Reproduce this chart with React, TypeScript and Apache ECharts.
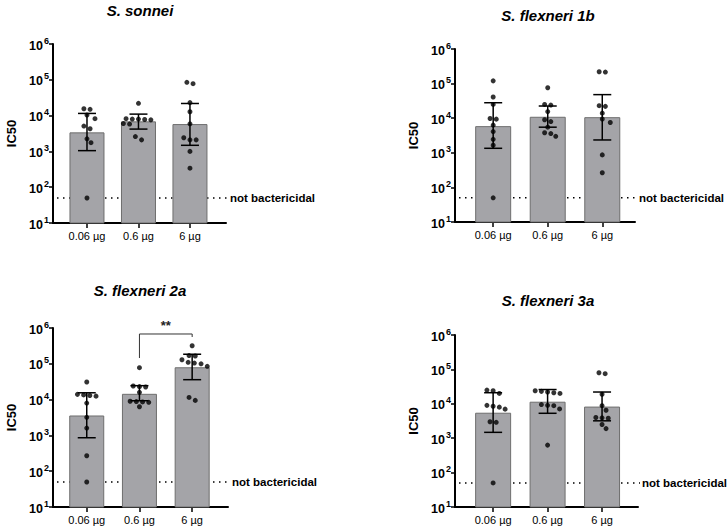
import React, { useEffect, useRef } from 'react';
import * as echarts from 'echarts';

const FONT = '"Liberation Sans", Arial, Helvetica, sans-serif';

// ---------- data ----------
const doses = ['0.06 µg', '0.6 µg', '6 µg'];
const panelTitles = ['S. sonnei', 'S. flexneri 1b', 'S. flexneri 2a', 'S. flexneri 3a'];
const notBactericidalValue = 50;
const notBactericidalLabel = 'not bactericidal';
const yAxisName = 'IC50';

// S. sonnei
const sonneiMean = [3400, 6900, 5800];
const sonneiLow = [1050, 4200, 1480];
const sonneiHigh = [11500, 11000, 21800];
const sonneiDose1 = [15500, 15000, 10400, 8200, 5100, 4300, 2250, 1750, 50];
const sonneiDose2 = [22000, 8200, 8000, 8000, 7800, 7600, 6000, 5800, 2600, 2100];
const sonneiDose3 = [85000, 78000, 23000, 12800, 5900, 2400, 2100, 2100, 1000, 340];

// S. flexneri 1b
const flex1bMean = [5900, 11000, 10700];
const flex1bLow = [1350, 5500, 2350];
const flex1bHigh = [28000, 22500, 48000];
const flex1bDose1 = [120000, 41000, 25000, 9800, 9400, 6300, 4100, 2450, 1650, 50];
const flex1bDose2 = [76000, 25000, 24000, 15500, 9000, 8000, 5500, 3800, 3600, 3000];
const flex1bDose3 = [220000, 215000, 23000, 22000, 14000, 9500, 7500, 870, 265];

// S. flexneri 2a
const flex2aMean = [3600, 14500, 80000];
const flex2aLow = [860, 9300, 36000];
const flex2aHigh = [15500, 24500, 185000];
const flex2aDose1 = [31000, 14000, 13500, 13000, 12500, 8000, 3200, 1600, 270, 50];
const flex2aDose2 = [78000, 24000, 23000, 22500, 16000, 9000, 8800, 8600, 8400, 6300];
const flex2aDose3 = [320000, 170000, 165000, 130000, 110000, 105000, 100000, 85000, 11500, 9500];
// significance bracket between dose 2 and dose 3: [left leg end, top, right leg end]
const flex2aBracket = [145000, 680000, 560000];
const flex2aBracketLabel = '**';

// S. flexneri 3a
const flex3aMean = [5500, 11500, 8300];
const flex3aLow = [1480, 5300, 3200];
const flex3aHigh = [21000, 26000, 22000];
const flex3aDose1 = [25000, 24000, 20000, 9000, 8500, 8000, 7000, 3000, 2900, 50];
const flex3aDose2 = [24000, 23000, 22000, 21000, 20000, 9500, 9000, 8800, 7100, 630];
const flex3aDose3 = [80000, 75000, 19000, 8800, 6500, 4000, 3900, 3800, 2500, 1900];

// ---------- layout ----------
const layouts = [
  { left: 53, top: 44, width: 173, height: 179, xMin: 0.34, xMax: 3.7, barWidth: 35, titleX: 140, titleY: 10 },
  { left: 455, top: 49, width: 180, height: 173, xMin: 0.3, xMax: 3.6, barWidth: 36, titleX: 548, titleY: 15 },
  { left: 53, top: 328, width: 175, height: 179, xMin: 0.36, xMax: 3.68, barWidth: 35, titleX: 140, titleY: 290 },
  { left: 455, top: 335, width: 183, height: 172, xMin: 0.3, xMax: 3.66, barWidth: 36, titleX: 548, titleY: 300 },
];

const panels = [
  { mean: sonneiMean, low: sonneiLow, high: sonneiHigh, points: [sonneiDose1, sonneiDose2, sonneiDose3] },
  { mean: flex1bMean, low: flex1bLow, high: flex1bHigh, points: [flex1bDose1, flex1bDose2, flex1bDose3] },
  { mean: flex2aMean, low: flex2aLow, high: flex2aHigh, points: [flex2aDose1, flex2aDose2, flex2aDose3] },
  { mean: flex3aMean, low: flex3aLow, high: flex3aHigh, points: [flex3aDose1, flex3aDose2, flex3aDose3] },
];

// beeswarm layout: returns horizontal pixel offsets for each value
function beeswarm(values: number[], pxPerDecade: number): number[] {
  const ys = values.map((v) => Math.log10(v) * pxPerDecade);
  const idx = values.map((_, i) => i).sort((a, b) => values[b] - values[a]);
  const placed: { x: number; y: number }[] = [];
  const out = new Array(values.length).fill(0);
  const spacing = 6.2;
  const rowTol = 3.5;
  const minDist = 5.5;
  let i = 0;
  while (i < idx.length) {
    const row = [idx[i]];
    let j = i + 1;
    while (j < idx.length && ys[idx[i]] - ys[idx[j]] <= rowTol) {
      row.push(idx[j]);
      j++;
    }
    const n = row.length;
    const base = row.map((_, k) => (k - (n - 1) / 2) * spacing);
    const shifts = [0, 4, -4, 8, -8, 12, -12];
    let chosen = 0;
    for (const s of shifts) {
      const ok = row.every((p, k) =>
        placed.every((q) => Math.hypot(q.x - (base[k] + s), q.y - ys[p]) >= minDist)
      );
      if (ok) {
        chosen = s;
        break;
      }
    }
    row.forEach((p, k) => {
      out[p] = base[k] + chosen;
      placed.push({ x: out[p], y: ys[p] });
    });
    i = j;
  }
  return out;
}

function buildOption() {
  const grid: any[] = [];
  const xAxis: any[] = [];
  const yAxis: any[] = [];
  const series: any[] = [];
  const graphic: any[] = [];

  panels.forEach((panel, pi) => {
    const L = layouts[pi];
    const pxPerUnit = L.width / (L.xMax - L.xMin);
    const pxPerDecade = L.height / 5;
    grid.push({ left: L.left, top: L.top, width: L.width, height: L.height, containLabel: false });
    xAxis.push({
      type: 'value',
      gridIndex: pi,
      min: L.xMin,
      max: L.xMax,
      axisLine: { show: true, onZero: false, lineStyle: { color: '#000', width: 2 } },
      axisTick: { show: true, customValues: [1, 2, 3], length: 5, lineStyle: { color: '#000', width: 1.5 } },
      axisLabel: {
        customValues: [1, 2, 3],
        formatter: (v: number) => doses[Math.round(v) - 1] ?? '',
        color: '#000',
        fontSize: 11,
        fontFamily: FONT,
        margin: 7,
      },
      splitLine: { show: false },
    });
    yAxis.push({
      type: 'log',
      logBase: 10,
      gridIndex: pi,
      min: 10,
      max: 1000000,
      name: yAxisName,
      nameLocation: 'middle',
      nameGap: 35,
      nameTextStyle: { fontWeight: 'bold', fontSize: 13, color: '#000', fontFamily: FONT },
      axisLine: { show: true, onZero: false, lineStyle: { color: '#000', width: 2 } },
      axisTick: { show: true, length: 4, lineStyle: { color: '#000', width: 1.5 } },
      minorTick: { show: false },
      splitLine: { show: false },
      axisLabel: {
        margin: 4,
        formatter: (v: number) => `{b|10}{s|${Math.round(Math.log10(v))}}`,
        rich: {
          b: { fontSize: 12.5, fontWeight: 'bold', color: '#000', fontFamily: FONT, lineHeight: 16, verticalAlign: 'bottom' },
          s: { fontSize: 9, fontWeight: 'bold', color: '#000', fontFamily: FONT, lineHeight: 16, verticalAlign: 'top', padding: [0, 0, 0, 1] },
        },
      },
    });

    // reference line (not bactericidal)
    series.push({
      type: 'custom',
      xAxisIndex: pi,
      yAxisIndex: pi,
      z: 1,
      silent: true,
      data: [[L.xMax, notBactericidalValue]],
      renderItem: (params: any, api: any) => {
        const a = api.coord([L.xMin, notBactericidalValue]);
        const b = api.coord([L.xMax, notBactericidalValue]);
        return {
          type: 'group',
          children: [
            {
              type: 'line',
              shape: { x1: a[0] + 4, y1: a[1], x2: b[0] + 2, y2: b[1] },
              style: { stroke: '#000', lineWidth: 1.5, lineDash: [1.5, 4.5] },
            },
            {
              type: 'text',
              x: b[0] + 4,
              y: b[1],
              style: {
                text: notBactericidalLabel,
                font: `bold 11.5px ${FONT}`,
                fill: '#000',
                textAlign: 'left',
                textVerticalAlign: 'middle',
              },
            },
          ],
        };
      },
    });

    // bars
    series.push({
      type: 'bar',
      xAxisIndex: pi,
      yAxisIndex: pi,
      z: 2,
      clip: true,
      barWidth: L.barWidth,
      data: panel.mean.map((v, k) => [k + 1, v]),
      itemStyle: { color: '#a4a4a8', borderColor: '#6e6e6e', borderWidth: 1 },
    });

    // error bars
    series.push({
      type: 'custom',
      xAxisIndex: pi,
      yAxisIndex: pi,
      z: 3,
      data: panel.mean.map((_, k) => [k + 1, panel.low[k], panel.high[k]]),
      encode: { x: 0, y: [1, 2] },
      renderItem: (params: any, api: any) => {
        const x = api.value(0);
        const lo = api.coord([x, api.value(1)]);
        const hi = api.coord([x, api.value(2)]);
        const cap = 9;
        const st = { stroke: '#000', lineWidth: 1.5 };
        return {
          type: 'group',
          children: [
            { type: 'line', shape: { x1: lo[0], y1: lo[1], x2: hi[0], y2: hi[1] }, style: st },
            { type: 'line', shape: { x1: lo[0] - cap, y1: lo[1], x2: lo[0] + cap, y2: lo[1] }, style: st },
            { type: 'line', shape: { x1: hi[0] - cap, y1: hi[1], x2: hi[0] + cap, y2: hi[1] }, style: st },
          ],
        };
      },
    });

    // individual points
    const pts: number[][] = [];
    panel.points.forEach((arr, k) => {
      const offs = beeswarm(arr, pxPerDecade);
      arr.forEach((v, j) => pts.push([k + 1 + offs[j] / pxPerUnit, v]));
    });
    series.push({
      type: 'scatter',
      xAxisIndex: pi,
      yAxisIndex: pi,
      z: 4,
      symbol: 'circle',
      symbolSize: 5,
      itemStyle: { color: '#000' },
      data: pts,
    });

    graphic.push({
      type: 'text',
      x: L.titleX,
      y: L.titleY,
      style: {
        text: panelTitles[pi],
        font: `italic bold 15px ${FONT}`,
        fill: '#000',
        textAlign: 'center',
        textVerticalAlign: 'middle',
      },
    });
  });

  // significance bracket in panel 3 (S. flexneri 2a)
  series.push({
    type: 'custom',
    xAxisIndex: 2,
    yAxisIndex: 2,
    z: 5,
    data: [[2, 3, flex2aBracket[0], flex2aBracket[1], flex2aBracket[2]]],
    renderItem: (params: any, api: any) => {
      const p1 = api.coord([api.value(0), api.value(2)]);
      const p2 = api.coord([api.value(0), api.value(3)]);
      const p3 = api.coord([api.value(1), api.value(3)]);
      const p4 = api.coord([api.value(1), api.value(4)]);
      return {
        type: 'group',
        children: [
          {
            type: 'polyline',
            shape: { points: [p1, p2, p3, p4] },
            style: { stroke: '#333', lineWidth: 1, fill: null },
          },
          {
            type: 'text',
            x: (p2[0] + p3[0]) / 2,
            y: p2[1] - 8,
            style: {
              text: flex2aBracketLabel,
              font: `bold 13px ${FONT}`,
              fill: '#222',
              textAlign: 'center',
              textVerticalAlign: 'middle',
            },
          },
        ],
      };
    },
  });

  return {
    animation: false,
    backgroundColor: '#fff',
    grid,
    xAxis,
    yAxis,
    series,
    graphic,
  };
}

export default function App() {
  const ref = useRef<HTMLDivElement>(null);
  useEffect(() => {
    if (!ref.current) return;
    const chart = echarts.init(ref.current, undefined, { renderer: 'svg' });
    chart.setOption(buildOption() as any);
    return () => chart.dispose();
  }, []);
  return (
    <div
      ref={ref}
      style={{ position: 'fixed', left: 0, top: 0, width: 727, height: 529, background: '#fff' }}
    />
  );
}
